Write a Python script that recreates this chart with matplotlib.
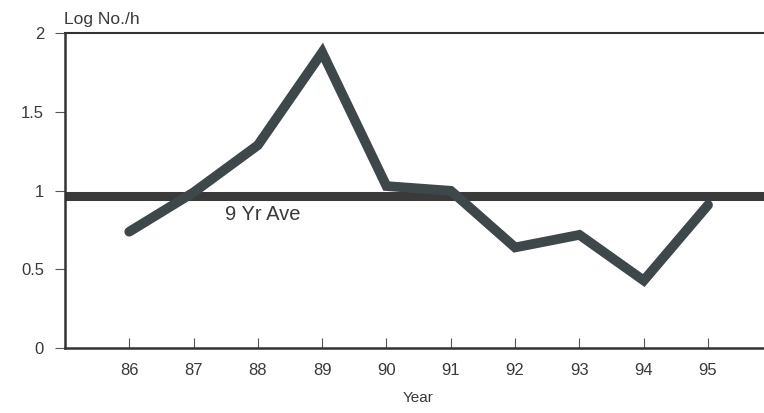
import numpy as np
import matplotlib
matplotlib.use("Agg")
from matplotlib import pyplot as plt

plt.rcParams['font.family'] = ['Liberation Sans', 'DejaVu Sans']

years = [86, 87, 88, 89, 90, 91, 92, 93, 94, 95]
log_no = [0.74, 0.99, 1.29, 1.88, 1.03, 1.00, 0.64, 0.72, 0.43, 0.91]
ave_9yr = 0.97
y_ticks = [0, 0.5, 1, 1.5, 2]
y_labels = ['0', '0.5', '1', '1.5', '2']

fig = plt.figure(figsize=(7.64, 4.13), dpi=100)
ax = fig.add_axes([0.085, 0.157, 0.915, 0.762])

# 9 year average line, then the yearly series on top
ax.axhline(ave_9yr, color='#3a3a3a', lw=6.5, solid_capstyle='butt', zorder=2)
ax.plot(years, log_no, color='#3e4749', lw=7, solid_capstyle='round',
        solid_joinstyle='miter', zorder=3)
ax.text(87.49, 0.91, '9 Yr Ave', fontsize=14.5, color='#3a3a3a',
        va='top', ha='left')

ax.set_xlim(85, 95.87)
ax.set_ylim(0, 2)
ax.set_xticks(years)
ax.set_xticklabels([str(y) for y in years])
ax.set_yticks(y_ticks)
ax.set_yticklabels(y_labels)

ax.tick_params(axis='x', direction='in', length=7, width=0.8, color='#555555',
               labelsize=12, labelcolor='#3a3a3a', pad=11)
ax.tick_params(axis='y', direction='out', length=7, width=0.8, color='#555555',
               labelsize=12, labelcolor='#3a3a3a', pad=8)

for s in ['left', 'bottom']:
    ax.spines[s].set_linewidth(1.8)
    ax.spines[s].set_color('#333333')
ax.spines['top'].set_linewidth(1.5)
ax.spines['top'].set_color('#333333')
ax.spines['right'].set_visible(False)

ax.set_xlabel('Year', fontsize=11, color='#3a3a3a')
ax.xaxis.set_label_coords(0.505, -0.135)
fig.text(0.084, 0.952, 'Log No./h', fontsize=12.5, color='#3a3a3a',
         ha='left', va='center')

fig.savefig('out.png', dpi=100)
